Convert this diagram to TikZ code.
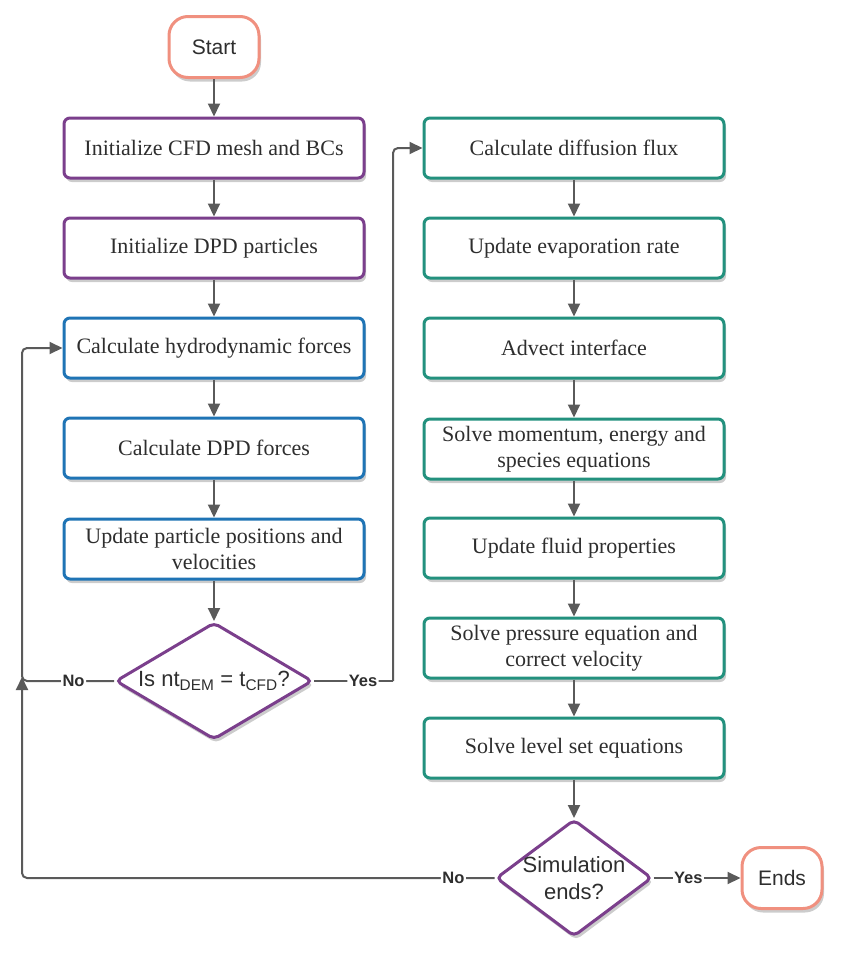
\documentclass[tikz,border=0pt]{standalone}
\usepackage{fontspec}
\newfontfamily\sansf{Liberation Sans}
\newfontfamily\seriff{Liberation Serif}
\usetikzlibrary{shapes.geometric,arrows.meta,shadows}
\definecolor{cpurple}{HTML}{7B3F8C}
\definecolor{cblue}{HTML}{1F74B5}
\definecolor{cgreen}{HTML}{23917E}
\definecolor{csalmon}{HTML}{F0907F}
\definecolor{cline}{HTML}{5A5A5A}
\definecolor{ctext}{HTML}{2E2E2E}
\tikzset{
  x=1pt,y=-1pt,
  shd/.style={drop shadow={shadow xshift=2pt,shadow yshift=-4pt,opacity=0.2,fill=black}},
  procbox/.style={shd,draw,fill=white,line width=3pt,rounded corners=6pt,minimum width=300pt,minimum height=60pt,
    align=center,text=ctext,font=\seriff\fontsize{22}{26}\selectfont,inner sep=2pt},
  pbox/.style={procbox,draw=cpurple},
  bbox/.style={procbox,draw=cblue},
  gbox/.style={procbox,draw=cgreen},
  term/.style={shd,draw=csalmon,fill=white,line width=3pt,rounded corners=19pt,minimum height=61pt,
    text=ctext,font=\sansf\fontsize{21}{24}\selectfont},
  decide/.style={shd,diamond,draw=cpurple,fill=white,line width=3pt,rounded corners=5pt,inner sep=-14pt,
    text=ctext,font=\sansf\fontsize{22}{27}\selectfont,align=center},
  conn/.style={draw=cline,line width=2pt,-{Triangle[length=13pt,width=12pt]}},
  plainconn/.style={draw=cline,line width=2pt},
  lab/.style={fill=white,inner sep=1.5pt,text=ctext,font=\sansf\bfseries\fontsize{16.5}{19}\selectfont},
}
\begin{document}
\begin{tikzpicture}
\useasboundingbox (0,0) rectangle (848,964);
\node[term,minimum width=90pt] (start) at (214,47) {Start};
\node[pbox] (b1) at (214,148) {Initialize CFD mesh and BCs};
\node[pbox] (b2) at (214,248) {Initialize DPD particles};
\node[bbox] (b3) at (214,348) {Calculate hydrodynamic forces};
\node[bbox] (b4) at (214,448) {Calculate DPD forces};
\node[bbox] (b5) at (214,549) {Update particle positions and\\velocities};
\node[decide,minimum width=197pt,minimum height=117pt] (d1) at (214,681) {Is nt\textsubscript{DEM} = t\textsubscript{CFD}?};

\node[gbox] (r1) at (574,148) {Calculate diffusion flux};
\node[gbox] (r2) at (574,248) {Update evaporation rate};
\node[gbox] (r3) at (574,348) {Advect interface};
\node[gbox] (r4) at (574,449) {Solve momentum, energy and\\species equations};
\node[gbox] (r5) at (574,548) {Update fluid properties};
\node[gbox] (r6) at (574,648) {Solve pressure equation and\\correct velocity};
\node[gbox] (r7) at (574,748) {Solve level set equations};
\node[decide,minimum width=156pt,minimum height=117pt] (d2) at (574,878) {Simulation\\ends?};
\node[term,minimum width=80pt] (ends) at (782,878) {Ends};

\coordinate (lx) at (22,681);
\coordinate (lb) at (22,878);
\coordinate (yx) at (393,681);

\draw[conn] (start) -- (b1);
\draw[conn] (b1) -- (b2);
\draw[conn] (b2) -- (b3);
\draw[conn] (b3) -- (b4);
\draw[conn] (b4) -- (b5);
\draw[conn] (b5) -- (d1);
\draw[conn] (r1) -- (r2);
\draw[conn] (r2) -- (r3);
\draw[conn] (r3) -- (r4);
\draw[conn] (r4) -- (r5);
\draw[conn] (r5) -- (r6);
\draw[conn] (r6) -- (r7);
\draw[conn] (r7) -- (d2);

\draw[conn,rounded corners=5pt] (d1.west) -- node[lab,pos=0.44]{No} (lx) |- (b3.west);
\draw[conn,rounded corners=5pt] (yx) |- (r1.west);
\draw[plainconn,rounded corners=5pt] (d1.east) -- node[lab,pos=0.62]{Yes} (yx);
\draw[conn,rounded corners=5pt] (d2.west) -- node[lab,pos=0.087]{No} (lb) -- ([yshift=4pt]lx);
\draw[conn] (d2.east) -- node[lab,pos=0.4]{Yes} (ends.west);
\end{tikzpicture}
\end{document}
